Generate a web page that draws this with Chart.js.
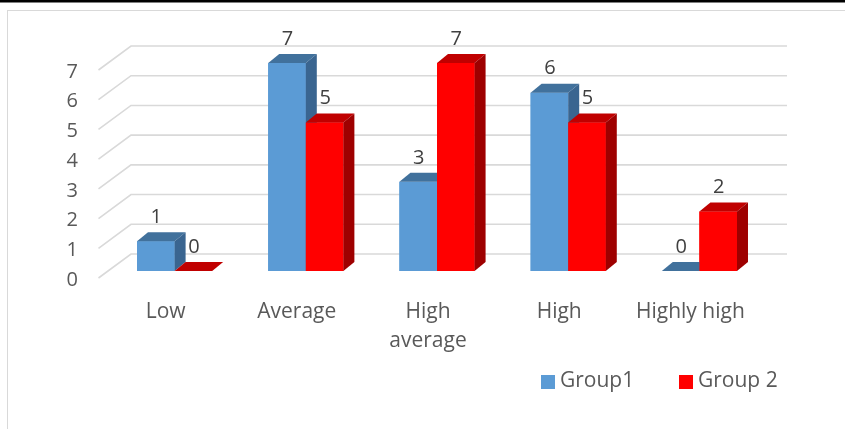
<!DOCTYPE html>
<html>
<head>
<meta charset="utf-8">
<script src="https://cdn.jsdelivr.net/npm/chart.js@4"></script>
<style>
  html, body { margin: 0; padding: 0; background: #fff; }
  canvas { display: block; }
</style>
</head>
<body>
<canvas id="myChart" width="845" height="429"></canvas>
<script>
// data
const categories = ["Low", "Average", ["High", "average"], "High", "Highly high"];
const group1 = [1, 7, 3, 6, 0];
const group2 = [0, 5, 7, 5, 2];
const seriesNames = ["Group1", "Group 2"];
const yTicks = [0, 1, 2, 3, 4, 5, 6, 7];

const FONT = "'Open Sans'";
const DX = 11, DY = -9;        // bar depth
const FRONT = { dx: -10.5, dy: 7 };  // floor front edge
const BACK = { dx: 22, dy: -17 };   // back wall

const faceColors = [
  { front: "#5B9BD5", top: "#41719C", side: "#3A6590" },
  { front: "#FF0000", top: "#C00000", side: "#9E0000" }
];

// back wall, diagonals, frame
const wallPlugin = {
  id: "wall",
  beforeDraw(chart) {
    const ctx = chart.ctx;
    ctx.save();
    ctx.fillStyle = "#000";
    ctx.fillRect(0, 0, chart.width, 2.5);
    ctx.strokeStyle = "#d9d9d9";
    ctx.lineWidth = 1;
    ctx.strokeRect(7.5, 10.5, chart.width + 10, chart.height + 10);
    ctx.restore();
  },
  beforeDatasetsDraw(chart) {
    const ctx = chart.ctx;
    const { left, right } = chart.chartArea;
    const y = chart.scales.y;
    ctx.save();
    ctx.strokeStyle = "#d9d9d9";
    ctx.lineWidth = 1.6;
    yTicks.forEach(v => {
      const py = y.getPixelForValue(v);
      ctx.beginPath();
      ctx.moveTo(left + FRONT.dx, py + FRONT.dy);
      ctx.lineTo(left + BACK.dx, py + BACK.dy);
      ctx.lineTo(right + BACK.dx, py + BACK.dy);
      ctx.stroke();
    });
    ctx.restore();
  }
};

// 3d faces + value labels + legend
const barsPlugin = {
  id: "bars3d",
  afterDatasetsDraw(chart) {
    const ctx = chart.ctx;
    ctx.save();
    const labels = [];
    categories.forEach((c, i) => {
      chart.data.datasets.forEach((ds, d) => {
        const bar = chart.getDatasetMeta(d).data[i];
        const { x, y, base, width } = bar.getProps(["x", "y", "base", "width"], true);
        const l = x - width / 2, r = x + width / 2;
        const col = faceColors[d];
        ctx.fillStyle = col.front;
        ctx.fillRect(l, y, width, base - y);
        ctx.fillStyle = col.top;
        ctx.beginPath();
        ctx.moveTo(l, y);
        ctx.lineTo(l + DX, y + DY);
        ctx.lineTo(r + DX, y + DY);
        ctx.lineTo(r, y);
        ctx.closePath();
        ctx.fill();
        ctx.fillStyle = col.side;
        ctx.beginPath();
        ctx.moveTo(r, y);
        ctx.lineTo(r + DX, y + DY);
        ctx.lineTo(r + DX, base + DY);
        ctx.lineTo(r, base);
        ctx.closePath();
        ctx.fill();
        labels.push({ x: x + 0.5, y: y - 24, t: String(ds.data[i]) });
      });
    });
    ctx.fillStyle = "#404040";
    ctx.font = "20px " + FONT;
    ctx.textAlign = "center";
    ctx.textBaseline = "middle";
    labels.forEach(o => ctx.fillText(o.t, o.x, o.y));
    ctx.restore();
  },
  afterDraw(chart) {
    const ctx = chart.ctx;
    ctx.save();
    ctx.font = "21px " + FONT;
    ctx.textBaseline = "middle";
    ctx.textAlign = "left";
    const items = [{ x: 541 }, { x: 679 }];
    chart.data.datasets.forEach((ds, d) => {
      ctx.fillStyle = ds.backgroundColor;
      ctx.fillRect(items[d].x, 375, 14, 14);
      ctx.fillStyle = "#595959";
      ctx.fillText(ds.label, items[d].x + 19, 381);
    });
    ctx.restore();
  }
};

new Chart(document.getElementById("myChart"), {
  type: "bar",
  data: {
    labels: categories,
    datasets: [
      { label: seriesNames[0], data: group1, backgroundColor: faceColors[0].front },
      { label: seriesNames[1], data: group2, backgroundColor: faceColors[1].front }
    ]
  },
  options: {
    responsive: false,
    animation: false,
    devicePixelRatio: 1,
    layout: { padding: { left: 0, top: 63, right: 80, bottom: 58 } },
    categoryPercentage: 0.573,
    barPercentage: 1,
    plugins: { legend: { display: false }, tooltip: { enabled: false } },
    scales: {
      x: {
        grid: { display: false, drawTicks: false },
        border: { display: false },
        ticks: {
          color: "#595959",
          font: { family: "Open Sans", size: 21, lineHeight: 1.4 },
          labelOffset: -9,
          padding: 26,
          maxRotation: 0,
          autoSkip: false
        },
        afterFit(s) { s.height = 100; }
      },
      y: {
        min: 0,
        max: 7,
        grid: { display: false, drawTicks: false },
        border: { display: false },
        ticks: {
          stepSize: 1,
          color: "#595959",
          font: { family: "Open Sans", size: 20 },
          labelOffset: 9,
          padding: 31
        },
        afterFit(s) { s.width = 109; }
      }
    }
  },
  plugins: [wallPlugin, barsPlugin]
});
</script>
</body>
</html>
